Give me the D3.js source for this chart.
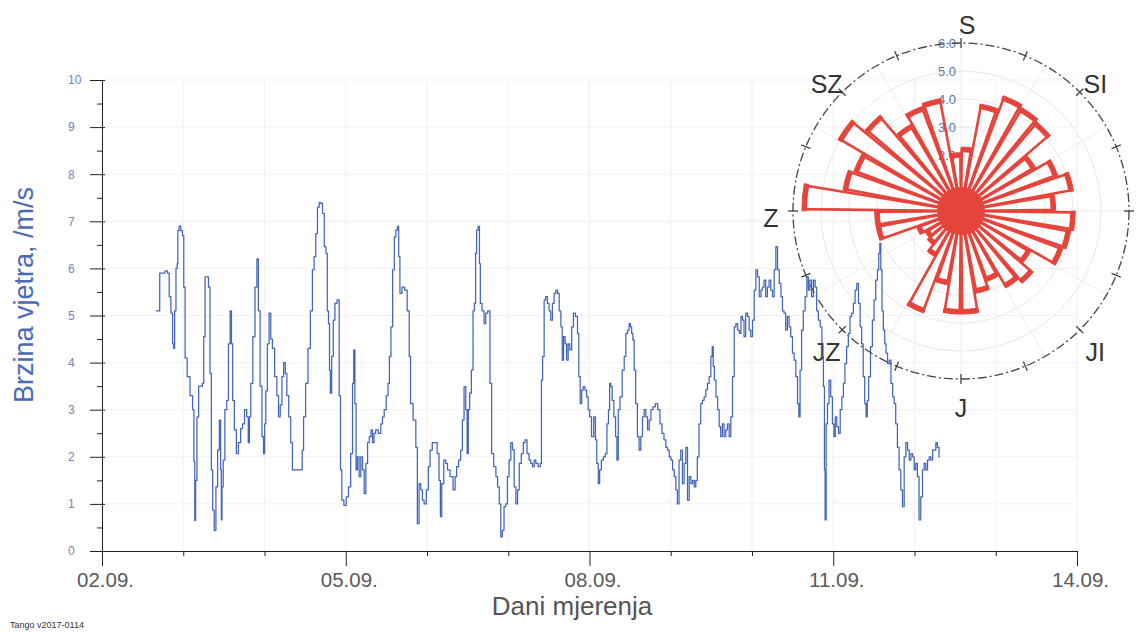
<!DOCTYPE html>
<html>
<head>
<meta charset="utf-8">
<script src="https://cdn.jsdelivr.net/npm/d3@7"></script>
<style>
  html, body { margin: 0; padding: 0; background: #fff; }
  svg { display: block; font-family: "Liberation Sans", Arial, sans-serif; }
</style>
</head>
<body>
<svg id="chart" width="1137" height="632"></svg>
<script>
// ---------- DATA ----------
// hours since 02.09. 00:00
const HOURS = [
16.0,18.1,19.1,19.6,20.1,20.6,21.1,21.3,21.6,22.1,22.3,22.5,23.0,23.5,24.0,24.3,24.8,25.5,26.5,27.0,27.3,27.5,27.8,28.3,28.8,29.4,29.9,30.2,30.7,31.2,31.7,32.1,32.5,32.9,33.4,33.9,34.4,34.9,35.2,35.3,35.6,36.0,36.6,37.1,37.6,38.1,38.4,38.8,39.4,40.0,40.6,41.3,41.7,42.5,43.0,43.4,43.7,44.2,44.9,45.5,46.0,46.4,47.0,47.5,47.9,48.2,48.6,49.1,49.6,50.1,50.6,51.4,51.9,52.4,52.9,53.4,53.9,54.4,54.8,55.5,56.0,56.5,57.5,59.0,59.3,59.8,60.5,61.2,61.9,62.4,62.9,63.4,63.9,64.4,64.9,65.4,65.9,66.4,66.7,67.1,67.3,67.6,68.1,68.5,69.1,69.8,70.3,70.6,71.1,71.8,72.5,73.1,73.8,74.2,74.5,74.9,75.2,75.7,76.2,76.7,77.2,77.7,78.2,78.7,79.2,79.7,80.1,80.6,81.1,82.1,82.6,83.1,83.6,84.3,84.7,85.1,85.6,86.1,86.6,87.0,87.5,87.8,88.2,89.0,89.8,90.5,91.0,91.3,
92.5,92.9,93.4,93.9,94.4,94.9,95.4,96.2,96.6,97.2,97.9,98.7,99.3,99.8,100.1,100.6,101.3,101.8,102.3,103.3,104.1,104.5,105.0,105.7,106.2,106.7,107.2,107.7,108.0,108.4,108.8,109.4,109.8,110.2,110.5,110.8,111.4,111.6,111.9,112.6,113.1,113.6,114.3,114.9,115.3,116.1,116.6,117.1,117.6,118.0,118.5,119.0,119.5,120.0,120.5,121.0,121.5,122.0,122.5,123.0,123.5,124.2,124.7,125.2,125.9,126.4,126.9,127.4,127.9,128.4,129.2,129.7,129.9,130.4,130.8,131.3,131.8,132.3,132.8,133.3,133.8,134.3,134.8,135.3,135.8,136.1,136.6,137.0,137.5,137.9,138.5,139.0,139.5,140.2,140.7,141.0,141.5,141.9,142.4,142.9,143.4,143.8,144.3,144.9,145.6,145.9,146.4,146.8,147.2,147.8,148.4,148.9,149.4,149.8,150.1,150.5,150.9,151.5,151.9,152.3,152.7,153.3,154.0,154.5,155.0,155.5,155.9,156.3,156.6,157.0,157.4,157.9,158.4,158.9,159.4,159.9,160.4,160.9,161.4,161.9,162.4,163.1,163.8,164.5,165.1,165.7,166.3,166.8,167.3,167.8,168.3,168.8,169.3,169.7,170.2,
170.7,171.2,171.7,172.2,172.7,173.2,173.7,174.2,174.7,175.2,175.6,176.1,176.6,177.1,177.6,178.1,178.6,179.1,179.6,180.1,180.4,180.7,181.1,181.6,182.1,182.5,183.0,183.5,184.0,184.5,185.0,185.5,186.0,186.5,187.0,187.5,188.0,188.5,189.0,189.4,189.9,190.4,190.9,191.4,191.9,192.4,192.9,193.4,193.9,194.4,194.9,195.3,195.8,196.3,196.8,197.3,197.8,198.3,198.8,199.3,199.8,200.3,200.8,201.2,201.7,202.2,202.7,203.2,203.7,204.2,204.7,205.2,205.7,206.0,206.4,206.9,207.4,208.0,208.4,208.9,209.3,209.9,210.4,210.9,211.3,211.9,212.4,212.9,213.3,213.5,213.7,214.1,214.5,215.0,215.5,216.0,216.4,216.8,217.3,217.8,218.3,218.8,219.2,219.7,220.2,220.7,221.2,221.7,222.2,222.7,223.2,223.7,224.2,224.6,225.1,225.5,225.9,226.2,226.7,227.3,227.8,228.3,228.8,229.3,229.6,229.9,230.2,230.6,231.0,231.4,231.8,232.3,232.8,233.3,233.8,234.2,234.7,235.2,235.7,236.2,236.7,237.2,237.7,238.2,238.7,239.2,239.7,240.1,240.6,241.1,241.6,242.1,242.6,243.1,243.6,244.1,244.6,245.1,245.6,246.1,246.5,247.0,247.5
];
// wind speed, m/s
const SPEEDS = [
5.1,5.9,5.95,5.9,5.4,5.05,4.4,4.3,5.1,6.0,6.1,6.8,6.9,6.8,6.7,5.6,4.1,3.7,3.3,3.0,1.9,0.65,1.5,2.85,3.5,3.5,3.56,4.55,5.82,5.82,5.6,3.77,1.72,0.87,0.44,1.36,2.14,2.78,1.72,0.66,1.36,1.93,3.0,3.2,4.4,5.1,4.4,3.2,2.57,2.07,2.3,2.6,2.7,3.0,2.85,2.3,2.85,3.56,4.55,5.6,6.2,5.1,3.5,2.43,2.07,2.7,3.4,4.4,5.05,4.5,4.3,3.7,3.3,2.85,3.1,3.7,4.0,3.77,3.3,2.85,2.3,1.72,1.72,1.72,2.14,2.85,3.56,4.3,5.1,5.97,6.25,6.74,7.3,7.4,7.38,7.17,6.46,6.32,5.1,4.83,3.84,3.35,4.13,4.9,5.26,5.33,3.3,1.72,1.08,0.97,1.15,1.36,2.07,3.56,4.27,3.13,1.72,2.0,1.58,2.0,1.72,1.22,1.86,2.3,2.43,2.57,2.3,2.5,2.57,2.5,2.7,2.85,3.0,3.3,3.56,4.13,4.76,5.97,6.67,6.81,6.89,6.25,5.47,5.6,5.54,5.1,4.13,3.13,
2.78,2.2,0.58,1.43,1.3,1.08,1.0,1.3,1.79,2.14,2.3,2.3,2.07,1.5,0.73,1.43,1.93,1.86,1.72,1.58,1.3,1.58,1.79,1.93,2.14,2.78,3.49,3.0,2.07,3.0,3.35,3.84,5.1,5.26,6.32,6.81,6.89,6.1,5.26,5.1,4.83,5.05,5.1,3.56,2.07,1.79,1.58,1.36,1.0,0.3,0.44,0.94,1.0,1.58,1.93,2.3,2.15,1.36,1.0,1.3,1.86,2.07,2.3,2.36,2.07,1.93,1.86,1.79,1.93,1.86,1.79,1.86,3.63,4.13,5.33,5.4,5.26,5.1,4.9,5.26,5.47,5.54,5.47,5.1,4.76,4.05,4.55,4.4,4.05,4.4,4.27,4.76,5.05,4.98,4.62,3.7,3.13,3.42,3.49,3.42,3.27,3.0,2.85,2.43,2.85,2.36,1.86,1.43,1.72,1.93,2.0,2.07,2.7,3.0,3.56,3.49,3.2,2.85,2.43,1.93,3.0,3.27,3.84,4.13,4.62,4.69,4.83,4.76,4.62,4.48,3.84,3.13,2.43,2.14,2.43,2.85,3.0,2.85,2.57,2.78,3.0,3.06,3.13,3.0,2.7,2.5,2.36,2.2,2.14,2.0,1.93,1.72,1.58,1.3,1.0,
1.93,2.14,1.43,1.86,2.2,1.08,1.58,1.43,1.5,1.36,1.5,2.0,2.7,3.13,3.2,3.27,3.42,3.56,3.7,4.13,4.34,3.92,3.63,3.27,3.0,2.64,2.43,2.7,2.43,2.57,2.7,2.43,2.85,3.7,4.76,4.83,4.69,4.62,4.98,4.9,4.55,5.05,4.98,4.69,4.55,4.9,5.54,5.97,5.82,5.4,5.54,5.6,5.75,5.4,5.6,5.75,5.54,5.4,5.97,6.46,5.97,5.68,5.4,5.1,5.05,4.69,4.98,4.76,4.55,4.2,4.05,3.7,3.13,2.85,3.84,4.69,5.1,5.4,5.82,5.54,5.75,5.4,5.75,5.6,5.1,4.9,4.76,4.13,3.49,1.72,0.66,2.7,3.13,3.63,3.27,2.7,2.43,2.85,2.64,2.5,3.0,3.27,3.56,3.98,4.34,4.62,4.98,5.05,5.26,5.54,5.68,5.26,4.76,4.4,3.7,3.13,2.85,3.2,3.7,4.34,4.9,5.33,5.75,5.97,6.32,6.53,5.97,5.1,4.69,4.4,4.2,3.98,4.05,3.56,3.27,3.13,2.7,2.2,1.72,1.3,0.94,2.0,2.3,2.14,1.93,2.07,2.0,1.72,1.86,1.58,0.66,1.15,1.72,1.86,1.72,1.93,2.0,1.93,2.14,2.14,2.3,2.2,2.0
];

const Y_TICKS = [0,1,2,3,4,5,6,7,8,9,10];
const X_TICK_LABELS = ["02.09.","05.09.","08.09.","11.09.","14.09."];
const X_TICK_DAYS = [0,3,6,9,12];      // days after 02.09.
const X_MINOR_DAYS = [1,2,4,5,7,8,10,11];

// wind rose: direction bin centres (deg, clockwise from north) and values
const ROSE_DIRS = [5,15,25,35,45,55,65,75,85,95,105,115,125,135,145,155,165,175,185,195,205,215,225,235,245,255,265,275,285,295,305,315,325,335,345,355];
const ROSE_VALUES = [2.2,3.8,4.3,4.2,4.1,3.0,3.6,4.0,3.3,4.0,3.9,3.8,2.8,3.3,3.1,2.6,2.9,3.6,3.6,2.6,3.8,1.8,1.5,1.4,1.6,3.0,3.0,5.6,4.2,4.0,5.0,4.4,3.5,3.9,4.0,2.0];
const ROSE_RINGS = [1,2,3,4,5,6];
const ROSE_RING_LABELS = ["1.0","2.0","3.0","4.0","5.0","6.0"];
const COMPASS_LABELS = ["S","SI","JI","J","JZ","Z","SZ"];
const COMPASS_ANGLES = [0,45,135,180,225,270,315];

// ---------- CHART ----------
const svg = d3.select("#chart");
const t0 = new Date(2017, 8, 2, 0, 0, 0);
const hourToDate = h => new Date(t0.getTime() + h * 3600e3);
const dayToDate = d => new Date(t0.getTime() + d * 24 * 3600e3);

const x = d3.scaleTime().domain([t0, dayToDate(12)]).range([102, 1077]);
const y = d3.scaleLinear().domain([0, 10]).range([551, 80]);

// faint grid
const grid = svg.append("g").attr("stroke", "#f1f1f1").attr("stroke-width", 1);
grid.selectAll("line.h").data(Y_TICKS.slice(1)).join("line")
  .attr("x1", 102).attr("x2", 1077).attr("y1", d => y(d)).attr("y2", d => y(d));
grid.selectAll("line.v").data(d3.range(1, 13)).join("line")
  .attr("x1", d => x(dayToDate(d))).attr("x2", d => x(dayToDate(d)))
  .attr("y1", y(0)).attr("y2", y(10));

// wind rose geometry
const cx = 961, cy = 211;
const r = d3.scaleLinear().domain([0, 6]).range([0, 168]);
const rose = svg.append("g").attr("transform", `translate(${cx},${cy})`);
const rad = a => a * Math.PI / 180;

// rose faint grid
rose.selectAll("circle.ring").data(ROSE_RINGS.slice(0, 5)).join("circle")
  .attr("r", d => r(d)).attr("fill", "none").attr("stroke", "#e8e8e8").attr("stroke-width", 1);
rose.selectAll("line.spoke").data(d3.range(0, 360, 30)).join("line")
  .attr("x1", 0).attr("y1", 0)
  .attr("x2", d => r(6) * Math.sin(rad(d))).attr("y2", d => -r(6) * Math.cos(rad(d)))
  .attr("stroke", "#ececec").attr("stroke-width", 1);

// line
const line = d3.line()
  .x((d, i) => x(hourToDate(HOURS[i])))
  .y(d => y(d))
  .curve(d3.curveStep);
svg.append("path").datum(SPEEDS)
  .attr("d", line)
  .attr("fill", "none")
  .attr("stroke", "#4365b8")
  .attr("stroke-width", 1.25)
  .attr("stroke-linejoin", "round");

// rose ring labels
rose.selectAll("text.rl").data(ROSE_RINGS.slice(1)).join("text")
  .attr("x", -14).attr("y", d => -r(d))
  .attr("dy", "0.35em")
  .attr("text-anchor", "middle")
  .attr("font-size", 13)
  .attr("fill", "#6070aa")
  .text(d => ROSE_RING_LABELS[d - 1]);

// rose wedges
const red = "#e6433b";
const half = 4.3;
const wedge = d3.arc().innerRadius(0)
  .outerRadius(d => r(d.v))
  .startAngle(d => rad(d.a - half)).endAngle(d => rad(d.a + half));
const cap = d3.arc()
  .innerRadius(d => r(d.v) - 2.3).outerRadius(d => r(d.v) + 2.3)
  .startAngle(d => rad(d.a - half - 0.6)).endAngle(d => rad(d.a + half + 0.6));
const roseData = ROSE_DIRS.map((a, i) => ({ a, v: ROSE_VALUES[i] }));
rose.selectAll("path.w").data(roseData).join("path")
  .attr("d", wedge).attr("fill", "none").attr("stroke", red).attr("stroke-width", 2.6)
  .attr("stroke-linejoin", "round");
rose.selectAll("path.c").data(roseData).join("path")
  .attr("d", cap).attr("fill", red).attr("stroke", red).attr("stroke-width", 1);
rose.append("circle").attr("r", 24).attr("fill", red);

// outer circle with ticks
rose.append("circle").attr("r", r(6)).attr("fill", "none")
  .attr("stroke", "#454545").attr("stroke-width", 1.3).attr("stroke-dasharray", "9,3,2,3");
rose.selectAll("line.ot").data(d3.range(0, 360, 22.5)).join("line")
  .attr("x1", d => (r(6) - 5) * Math.sin(rad(d))).attr("y1", d => -(r(6) - 5) * Math.cos(rad(d)))
  .attr("x2", d => (r(6) + 5) * Math.sin(rad(d))).attr("y2", d => -(r(6) + 5) * Math.cos(rad(d)))
  .attr("stroke", "#454545").attr("stroke-width", 1.3);

// compass labels (north label nudged right so it clears the ring scale)
rose.selectAll("text.cl").data(COMPASS_LABELS).join("text")
  .attr("x", (d, i) => 190 * Math.sin(rad(COMPASS_ANGLES[i])) + (COMPASS_ANGLES[i] === 0 ? 6 : 0))
  .attr("y", (d, i) => -190 * Math.cos(rad(COMPASS_ANGLES[i])) + (COMPASS_ANGLES[i] === 0 ? 4 : 7))
  .attr("dy", "0.36em")
  .attr("text-anchor", "middle")
  .attr("font-size", 25)
  .attr("fill", "#333")
  .text(d => d);

// ---------- AXES ----------
const yAxis = d3.axisLeft(y).tickValues(Y_TICKS).tickSize(12).tickSizeOuter(0).tickFormat(d3.format("d"));
const gy = svg.append("g").attr("transform", "translate(102,0)").call(yAxis);
gy.select(".domain").attr("stroke", "#222");
gy.selectAll(".tick line").attr("stroke", "#222").attr("x2", -12).attr("x1", 3);
gy.selectAll(".tick text").attr("text-anchor", "start").attr("x", -34)
  .attr("font-size", 12).attr("fill", "#7082b8").attr("font-family", "Liberation Sans, Arial, sans-serif");
const yMinor = d3.axisLeft(y).tickValues(d3.range(0.5, 10, 1)).tickSize(5).tickFormat("");
const gym = svg.append("g").attr("transform", "translate(102,0)").call(yMinor);
gym.select(".domain").remove();
gym.selectAll(".tick line").attr("stroke", "#222");

const xAxis = d3.axisBottom(x).tickValues(X_TICK_DAYS.map(dayToDate)).tickSize(15).tickSizeOuter(0)
  .tickFormat((d, i) => X_TICK_LABELS[i]);
const gx = svg.append("g").attr("transform", `translate(0,${y(0)})`).call(xAxis);
gx.select(".domain").attr("stroke", "#222");
gx.selectAll(".tick line").attr("stroke", "#222");
gx.selectAll(".tick text").attr("font-size", 20.5).attr("fill", "#5a5a5a")
  .attr("x", 3).attr("y", 21).attr("dy", "0.71em")
  .attr("font-family", "Liberation Sans, Arial, sans-serif");
const xMinor = d3.axisBottom(x).tickValues(X_MINOR_DAYS.map(dayToDate)).tickSize(5).tickFormat("");
const gxm = svg.append("g").attr("transform", `translate(0,${y(0)})`).call(xMinor);
gxm.select(".domain").remove();
gxm.selectAll(".tick line").attr("stroke", "#222");

// titles
svg.append("text")
  .attr("transform", "translate(33,295) rotate(-90)")
  .attr("text-anchor", "middle")
  .attr("font-size", 27)
  .attr("fill", "#4a69b6")
  .text("Brzina vjetra, /m/s");
svg.append("text")
  .attr("x", 572).attr("y", 615)
  .attr("text-anchor", "middle")
  .attr("font-size", 26)
  .attr("fill", "#555")
  .text("Dani mjerenja");
svg.append("text")
  .attr("x", 10).attr("y", 628)
  .attr("font-size", 9)
  .attr("fill", "#333")
  .text("Tango v2017-0114");
</script>
</body>
</html>
